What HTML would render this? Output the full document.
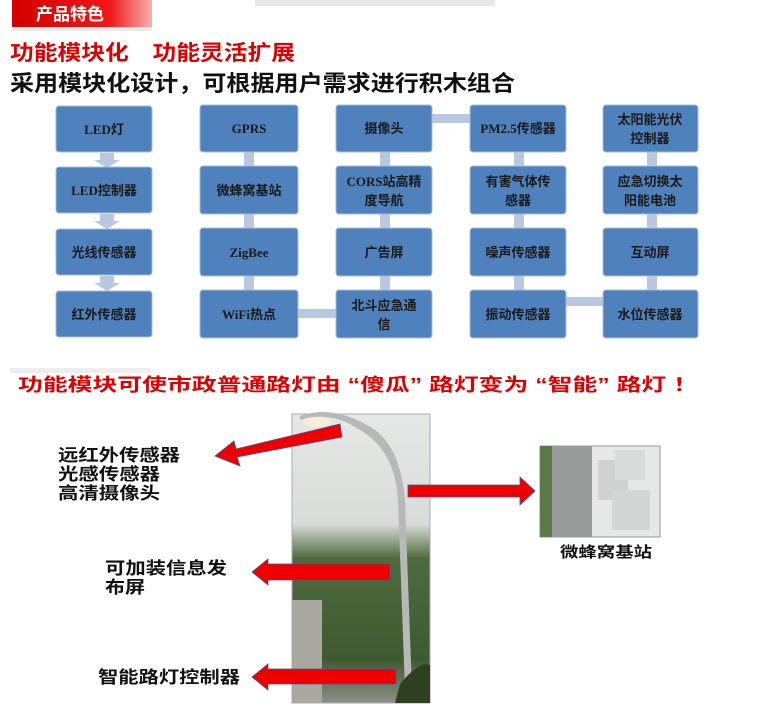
<!DOCTYPE html>
<html><head><meta charset="utf-8"><style>
body{margin:0;background:#fff;}
svg{display:block;}
text{font-family:"Liberation Sans","Noto Sans CJK SC",sans-serif;font-weight:bold;}
.bt{fill:#1a1a1a;font-size:13px;text-anchor:middle;font-family:"Liberation Serif","Noto Sans CJK SC",serif;}
</style></head><body>
<svg width="763" height="710" viewBox="0 0 763 710" xmlns="http://www.w3.org/2000/svg">
<defs>
<linearGradient id="rg" x1="0" y1="0" x2="1" y2="0"><stop offset="0" stop-color="#d40000"/><stop offset="0.7" stop-color="#f01818"/><stop offset="1" stop-color="#f8b0b0"/></linearGradient>
<linearGradient id="sky" x1="0" y1="0" x2="0" y2="1"><stop offset="0" stop-color="#e6e8e6"/><stop offset="0.38" stop-color="#d8dcd8"/><stop offset="0.5" stop-color="#4e6a3e"/><stop offset="0.85" stop-color="#3f5a30"/><stop offset="1" stop-color="#8d8f88"/></linearGradient>
</defs>
<rect x="12" y="0" width="140" height="31" fill="#ddd" opacity="0.6"/>
<rect x="12" y="0" width="140" height="27" fill="url(#rg)"/>
<text x="36" y="20" fill="#fff" font-size="17">产品特色</text>
<rect x="255" y="0" width="240" height="6" fill="#e8e8e8"/>
<text x="10" y="60" fill="#e00000" font-size="21" textLength="285" lengthAdjust="spacingAndGlyphs">功能模块化　功能灵活扩展</text>
<text x="10" y="91" fill="#111" font-size="22" textLength="505" lengthAdjust="spacingAndGlyphs">采用模块化设计，可根据用户需求进行积木组合</text>
<g fill="#b8c8e0">
<rect x="100" y="153" width="14" height="9"/><polygon points="94,160 120,160 107,168"/>
<rect x="100" y="214" width="14" height="9"/><polygon points="94,221 120,221 107,229"/>
<rect x="100" y="276" width="14" height="9"/><polygon points="94,283 120,283 107,291"/>
<rect x="244" y="152" width="10" height="14"/><rect x="244" y="214" width="10" height="14"/><rect x="244" y="276" width="10" height="14"/>
<rect x="380" y="152" width="10" height="14"/><rect x="380" y="214" width="10" height="14"/><rect x="380" y="276" width="10" height="14"/>
<rect x="514" y="152" width="10" height="14"/><rect x="514" y="214" width="10" height="14"/><rect x="514" y="276" width="10" height="14"/>
<rect x="647" y="152" width="10" height="14"/><rect x="647" y="214" width="10" height="14"/><rect x="647" y="276" width="10" height="14"/>
<rect x="298" y="309" width="38" height="9"/><rect x="432" y="114" width="38" height="9"/><rect x="566" y="297" width="37" height="9"/>
</g>
<g fill="#4f81bd" stroke="#a8bcd8" stroke-width="1">
<rect x="56" y="106" width="96" height="46" rx="3"/><rect x="56" y="167" width="96" height="46" rx="3"/><rect x="56" y="229" width="96" height="46" rx="3"/><rect x="56" y="291" width="96" height="46" rx="3"/>
<rect x="200" y="105" width="98" height="47" rx="3"/><rect x="200" y="166" width="98" height="48" rx="3"/><rect x="200" y="228" width="98" height="48" rx="3"/><rect x="200" y="290" width="98" height="48" rx="3"/>
<rect x="336" y="105" width="96" height="47" rx="3"/><rect x="336" y="166" width="96" height="48" rx="3"/><rect x="336" y="228" width="96" height="48" rx="3"/><rect x="336" y="290" width="96" height="48" rx="3"/>
<rect x="470" y="105" width="96" height="47" rx="3"/><rect x="470" y="166" width="96" height="48" rx="3"/><rect x="470" y="228" width="96" height="48" rx="3"/><rect x="470" y="290" width="96" height="48" rx="3"/>
<rect x="603" y="105" width="95" height="47" rx="3"/><rect x="603" y="166" width="95" height="48" rx="3"/><rect x="603" y="228" width="95" height="48" rx="3"/><rect x="603" y="290" width="95" height="48" rx="3"/>
</g>
<g>
<text class="bt" x="104" y="134">LED灯</text><text class="bt" x="104" y="195">LED控制器</text><text class="bt" x="104" y="257">光线传感器</text><text class="bt" x="104" y="319">红外传感器</text>
<text class="bt" x="249" y="133">GPRS</text><text class="bt" x="249" y="195">微蜂窝基站</text><text class="bt" x="249" y="257">ZigBee</text><text class="bt" x="249" y="319">WiFi热点</text>
<text class="bt" x="384" y="133">摄像头</text><text class="bt" x="384" y="186">CORS站高精</text><text class="bt" x="384" y="205">度导航</text><text class="bt" x="384" y="257">广告屏</text><text class="bt" x="384" y="310">北斗应急通</text><text class="bt" x="384" y="329">信</text>
<text class="bt" x="518" y="133">PM2.5传感器</text><text class="bt" x="518" y="186">有害气体传</text><text class="bt" x="518" y="205">感器</text><text class="bt" x="518" y="257">噪声传感器</text><text class="bt" x="518" y="319">振动传感器</text>
<text class="bt" x="650" y="124">太阳能光伏</text><text class="bt" x="650" y="143">控制器</text><text class="bt" x="650" y="186">应急切换太</text><text class="bt" x="650" y="205">阳能电池</text><text class="bt" x="650" y="257">互动屏</text><text class="bt" x="650" y="319">水位传感器</text>
</g>
<rect x="10" y="368" width="140" height="5" fill="#eee"/>
<text x="18" y="391" fill="#e00000" font-size="18" textLength="680" lengthAdjust="spacingAndGlyphs">功能模块可使市政普通路灯由 “傻瓜” 路灯变为 “智能” 路灯 ！</text>
<!-- photo -->
<rect x="292" y="414" width="138" height="289" fill="url(#sky)" stroke="#aab" stroke-width="1"/>
<rect x="292" y="600" width="30" height="103" fill="#a9a9a2"/>
<path d="M300,420 Q330,410 360,430 Q395,450 398,500 L405,690 L412,690 L405,500 Q400,440 365,424 Q330,405 300,416Z" fill="#b7b9b8"/>
<ellipse cx="317" cy="422" rx="14" ry="5" fill="#f4f0d8"/>
<path d="M400,684 Q420,660 430,665 L430,703 L395,703Z" fill="#2e4020"/>
<rect x="540" y="446" width="120" height="91" fill="#e4e8e6" stroke="#999"/>
<rect x="540" y="446" width="12" height="91" fill="#5a7a48"/>
<rect x="552" y="446" width="40" height="91" fill="#9a9c9c"/>
<rect x="598" y="460" width="30" height="40" fill="#cfd2d0"/>
<rect x="615" y="450" width="30" height="30" fill="#d8dbd9"/><rect x="612" y="490" width="38" height="40" fill="#d3d6d4"/>
<text x="560" y="557" fill="#111" font-size="15" textLength="92" lengthAdjust="spacingAndGlyphs">微蜂窝基站</text>
<!-- arrows -->
<g fill="#ee0000" stroke="#3a5a9a" stroke-width="0.8">
<polygon points="340,424 342,437 237,457 240,466 215,456 234,441 236,449"/>
<polygon points="390,564 390,580 268,580 268,585 252,572 268,559 268,564"/>
<polygon points="396,669 396,684 268,684 268,690 252,677 268,664 268,669"/>
<polygon points="408,485 408,497 520,497 520,505 535,491 520,477 520,485"/>
</g>
<g fill="#111" font-size="17">
<text x="58" y="461" textLength="122" lengthAdjust="spacingAndGlyphs">远红外传感器</text><text x="58" y="480" textLength="102" lengthAdjust="spacingAndGlyphs">光感传感器</text><text x="58" y="499" textLength="102" lengthAdjust="spacingAndGlyphs">高清摄像头</text>
<text x="105" y="574" textLength="122" lengthAdjust="spacingAndGlyphs">可加装信息发</text><text x="105" y="593" textLength="40" lengthAdjust="spacingAndGlyphs">布屏</text>
<text x="98" y="683" textLength="142" lengthAdjust="spacingAndGlyphs">智能路灯控制器</text>
</g>
</svg>
</body></html>
